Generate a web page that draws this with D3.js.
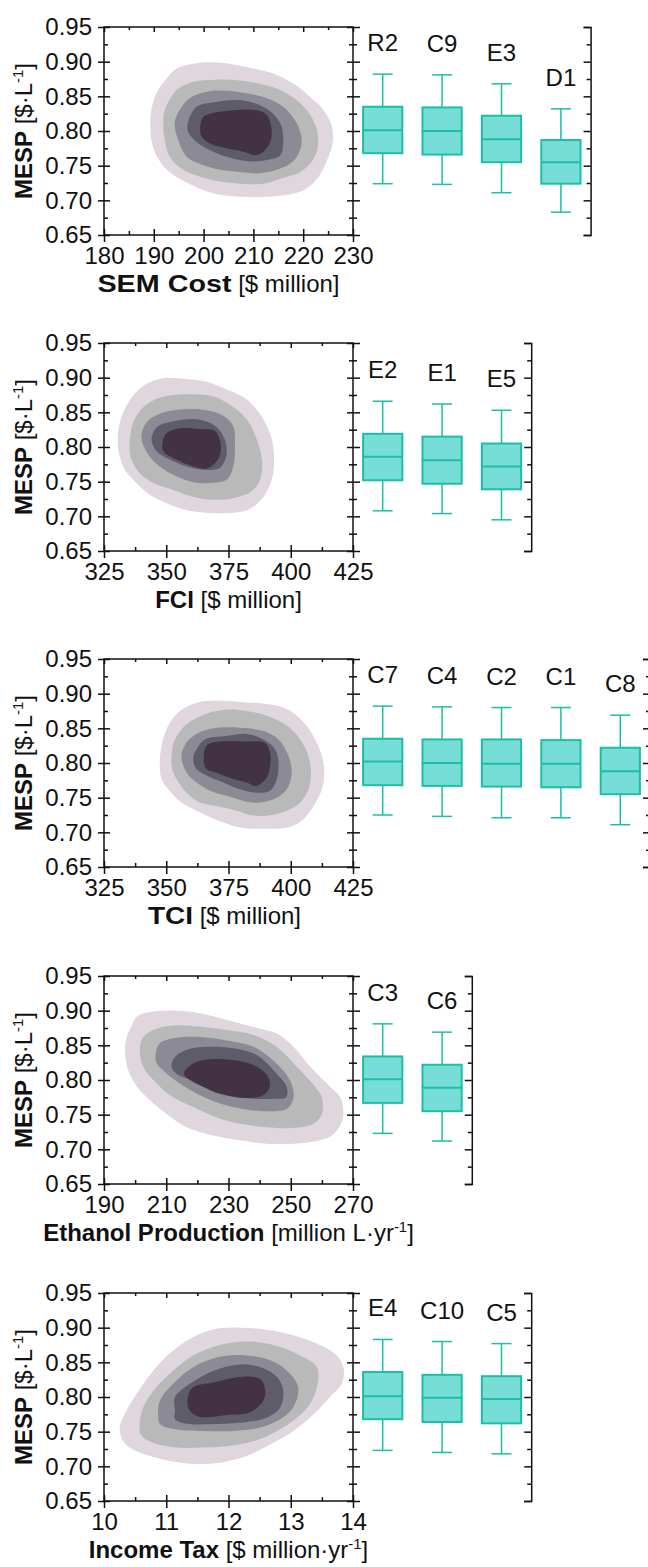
<!DOCTYPE html>
<html>
<head>
<meta charset="utf-8">
<script src="https://cdn.jsdelivr.net/npm/d3@7"></script>
<style>
  body { margin: 0; background: #fff; }
  svg text { font-family: "Liberation Sans", Arial, sans-serif; fill: #111; }
</style>
</head>
<body>
<svg id="chart" width="648" height="1567"></svg>
<script>
// shared MESP axis
var mespTicks = [0.65, 0.70, 0.75, 0.80, 0.85, 0.90, 0.95];

// x tick labels of each contour plot
var semTicks = [180, 190, 200, 210, 220, 230];
var fciTicks = [325, 350, 375, 400, 425];
var tciTicks = [325, 350, 375, 400, 425];
var ethanolTicks = [190, 210, 230, 250, 270];
var taxTicks = [10, 11, 12, 13, 14];

// box plots: [min, q1, median, q3, max]
var semBoxLabels = ["R2", "C9", "E3", "D1"];
var semBoxStats = [[0.724, 0.768, 0.801, 0.835, 0.882], [0.723, 0.766, 0.800, 0.834, 0.881],
                   [0.711, 0.755, 0.788, 0.822, 0.868], [0.683, 0.724, 0.755, 0.787, 0.832]];
var fciBoxLabels = ["E2", "E1", "E5"];
var fciBoxStats = [[0.708, 0.752, 0.786, 0.819, 0.866], [0.704, 0.747, 0.781, 0.815, 0.862],
                   [0.695, 0.739, 0.772, 0.805, 0.853]];
var tciBoxLabels = ["C7", "C4", "C2", "C1", "C8"];
var tciBoxStats = [[0.725, 0.768, 0.802, 0.835, 0.882], [0.723, 0.767, 0.800, 0.834, 0.881],
                   [0.721, 0.766, 0.799, 0.834, 0.880], [0.721, 0.765, 0.799, 0.833, 0.880],
                   [0.711, 0.755, 0.788, 0.822, 0.869]];
var ethanolBoxLabels = ["C3", "C6"];
var ethanolBoxStats = [[0.723, 0.767, 0.801, 0.834, 0.881], [0.712, 0.755, 0.789, 0.822, 0.869]];
var taxBoxLabels = ["E4", "C10", "C5"];
var taxBoxStats = [[0.723, 0.768, 0.801, 0.836, 0.883], [0.720, 0.764, 0.799, 0.832, 0.880],
                   [0.718, 0.762, 0.797, 0.830, 0.877]];

// density contours, outer level first: [x, MESP] vertices
var semContours = [
  [[189.3,0.811],[189.5,0.830],[190.5,0.854],[192.6,0.876],[194.6,0.890],[197.9,0.897],[201.9,0.899],[206.0,0.896],[210.0,0.890],[214.0,0.883],[218.1,0.868],[221.4,0.849],[224.1,0.830],[225.8,0.806],[225.9,0.782],[224.8,0.758],[223.1,0.734],[220.7,0.717],[218.1,0.710],[212.7,0.705],[207.3,0.705],[203.3,0.708],[199.9,0.715],[196.2,0.727],[192.6,0.744],[190.5,0.765],[189.5,0.787]],
  [[191.9,0.813],[192.2,0.830],[194.6,0.859],[197.9,0.871],[202.6,0.874],[207.3,0.873],[211.3,0.868],[215.4,0.859],[219.4,0.840],[221.7,0.820],[222.9,0.796],[222.8,0.772],[221.4,0.753],[219.4,0.741],[216.7,0.734],[212.0,0.724],[207.3,0.724],[203.3,0.727],[199.3,0.734],[195.9,0.744],[193.2,0.763],[192.2,0.787]],
  [[194.2,0.813],[195.6,0.835],[197.6,0.849],[201.9,0.858],[207.3,0.856],[212.0,0.849],[216.0,0.835],[218.7,0.811],[219.7,0.787],[219.1,0.768],[217.4,0.753],[214.7,0.744],[211.3,0.739],[207.3,0.741],[203.3,0.744],[199.9,0.751],[196.6,0.763],[194.9,0.787]],
  [[196.8,0.811],[198.6,0.835],[202.6,0.842],[208.0,0.844],[212.7,0.832],[215.4,0.811],[216.0,0.787],[215.4,0.765],[212.7,0.758],[210.0,0.756],[206.0,0.760],[201.9,0.770],[198.6,0.784],[196.9,0.799]],
  [[199.3,0.804],[199.9,0.820],[201.3,0.825],[206.0,0.830],[210.7,0.830],[212.7,0.823],[213.7,0.796],[212.7,0.775],[210.7,0.765],[208.0,0.770],[204.6,0.775],[201.3,0.782],[199.6,0.792]]
];
var fciContours = [
  [[330.6,0.801],[331.3,0.835],[334.7,0.864],[340.7,0.888],[348.8,0.899],[358.2,0.898],[366.2,0.894],[374.3,0.883],[382.3,0.869],[389.0,0.840],[392.4,0.811],[393.3,0.782],[392.4,0.753],[389.0,0.728],[383.7,0.711],[376.9,0.705],[366.2,0.705],[358.2,0.709],[350.1,0.719],[343.4,0.731],[336.7,0.753],[332.7,0.772]],
  [[335.3,0.806],[336.7,0.835],[340.7,0.857],[347.4,0.871],[358.2,0.876],[368.9,0.873],[375.6,0.861],[382.3,0.840],[386.3,0.811],[388.4,0.782],[387.7,0.753],[384.3,0.736],[376.9,0.726],[368.9,0.724],[360.8,0.728],[352.8,0.738],[344.7,0.748],[339.4,0.762],[336.0,0.782]],
  [[340.0,0.813],[342.0,0.835],[346.7,0.847],[355.5,0.854],[366.2,0.853],[372.9,0.845],[376.9,0.830],[377.6,0.801],[376.9,0.772],[374.3,0.753],[367.6,0.748],[360.2,0.750],[352.8,0.760],[347.4,0.772],[343.4,0.786]],
  [[344.1,0.810],[346.1,0.828],[352.8,0.837],[362.2,0.840],[368.9,0.832],[372.9,0.816],[374.3,0.791],[371.6,0.770],[366.2,0.767],[358.2,0.772],[351.4,0.782],[346.1,0.794]],
  [[348.5,0.807],[350.1,0.820],[355.5,0.827],[363.5,0.826],[369.6,0.823],[371.8,0.806],[371.6,0.789],[369.6,0.777],[366.2,0.769],[360.8,0.772],[354.1,0.782],[348.8,0.794]]
];
var tciContours = [
  [[347.4,0.796],[348.1,0.825],[350.8,0.854],[355.5,0.875],[362.2,0.887],[370.2,0.890],[379.6,0.888],[390.4,0.885],[398.4,0.878],[405.1,0.859],[409.8,0.834],[412.5,0.810],[413.5,0.786],[412.5,0.762],[409.2,0.738],[405.1,0.719],[399.8,0.708],[390.4,0.705],[379.6,0.707],[371.6,0.716],[363.5,0.729],[356.1,0.743],[350.8,0.762],[348.1,0.777]],
  [[352.1,0.810],[353.5,0.834],[358.2,0.856],[366.2,0.871],[374.3,0.877],[382.3,0.875],[390.4,0.868],[398.4,0.854],[403.8,0.834],[407.1,0.810],[408.1,0.786],[407.1,0.762],[403.8,0.743],[398.4,0.731],[390.4,0.724],[383.7,0.725],[378.3,0.731],[370.2,0.738],[363.5,0.743],[358.2,0.757],[354.1,0.777],[352.4,0.791]],
  [[356.1,0.809],[358.2,0.830],[362.2,0.842],[368.9,0.850],[379.6,0.851],[389.0,0.846],[395.1,0.834],[399.1,0.810],[400.4,0.786],[398.4,0.762],[394.4,0.750],[387.7,0.743],[382.3,0.744],[376.9,0.750],[368.9,0.758],[362.2,0.772],[358.2,0.786]],
  [[360.8,0.806],[362.2,0.820],[365.5,0.834],[374.3,0.839],[382.3,0.842],[389.0,0.834],[393.7,0.820],[395.1,0.801],[394.4,0.777],[391.7,0.760],[386.3,0.757],[379.6,0.762],[372.9,0.772],[366.9,0.781],[362.2,0.791]],
  [[365.1,0.801],[366.2,0.825],[371.6,0.831],[382.3,0.831],[389.7,0.829],[391.7,0.815],[391.7,0.796],[390.4,0.779],[386.3,0.767],[382.3,0.772],[376.9,0.777],[370.2,0.786],[366.2,0.791]]
];
var ethanolContours = [
  [[197.0,0.857],[198.8,0.877],[200.4,0.891],[204.7,0.898],[210.1,0.900],[216.5,0.899],[223.0,0.894],[231.6,0.884],[240.1,0.874],[245.5,0.867],[250.9,0.848],[256.3,0.819],[262.7,0.790],[265.9,0.775],[266.8,0.746],[263.8,0.722],[259.5,0.713],[250.9,0.708],[242.3,0.708],[233.7,0.713],[225.1,0.720],[216.5,0.732],[210.1,0.751],[204.7,0.771],[199.3,0.799],[197.0,0.828]],
  [[201.5,0.843],[202.6,0.862],[206.9,0.874],[213.3,0.879],[220.8,0.877],[229.4,0.872],[238.0,0.865],[245.5,0.848],[253.0,0.814],[257.9,0.790],[260.0,0.775],[260.0,0.751],[257.3,0.737],[250.9,0.731],[242.3,0.732],[233.7,0.737],[226.2,0.746],[218.7,0.761],[212.2,0.775],[206.9,0.795],[202.6,0.819]],
  [[206.6,0.838],[207.9,0.853],[213.3,0.861],[220.8,0.862],[229.4,0.857],[238.0,0.848],[244.4,0.828],[249.8,0.799],[250.9,0.775],[248.7,0.758],[242.3,0.755],[234.8,0.758],[227.3,0.766],[220.8,0.778],[214.4,0.795],[209.5,0.812],[206.9,0.824]],
  [[211.7,0.819],[212.8,0.833],[217.6,0.845],[225.1,0.848],[232.6,0.845],[239.1,0.836],[245.5,0.809],[248.7,0.790],[248.5,0.775],[244.4,0.773],[238.0,0.773],[231.6,0.778],[225.1,0.787],[218.7,0.799],[213.3,0.809]],
  [[215.7,0.809],[218.7,0.824],[224.0,0.830],[232.6,0.828],[239.1,0.819],[242.8,0.804],[243.2,0.790],[241.2,0.778],[234.8,0.774],[227.3,0.780],[221.9,0.790],[217.6,0.800]]
];
var taxContours = [
  [[10.25,0.756],[10.33,0.775],[10.52,0.804],[10.79,0.838],[11.11,0.867],[11.49,0.889],[11.86,0.899],[12.19,0.900],[12.61,0.897],[13.04,0.889],[13.47,0.875],[13.74,0.860],[13.85,0.841],[13.82,0.819],[13.63,0.800],[13.37,0.775],[13.04,0.751],[12.72,0.734],[12.35,0.717],[11.97,0.707],[11.54,0.703],[11.11,0.707],[10.74,0.715],[10.47,0.724],[10.31,0.736]],
  [[10.57,0.756],[10.63,0.785],[10.84,0.814],[11.11,0.838],[11.43,0.860],[11.86,0.875],[12.29,0.880],[12.72,0.875],[13.15,0.860],[13.42,0.843],[13.42,0.814],[13.31,0.790],[13.10,0.770],[12.78,0.751],[12.40,0.736],[11.97,0.729],[11.54,0.727],[11.17,0.727],[10.79,0.734],[10.60,0.744]],
  [[10.87,0.775],[10.90,0.795],[11.11,0.819],[11.43,0.843],[11.86,0.858],[12.29,0.860],[12.67,0.853],[12.94,0.838],[13.12,0.814],[13.04,0.785],[12.83,0.768],[12.51,0.756],[12.08,0.751],[11.59,0.751],[11.17,0.753],[10.90,0.761]],
  [[11.14,0.780],[11.14,0.800],[11.38,0.819],[11.76,0.838],[12.19,0.847],[12.51,0.843],[12.78,0.829],[12.88,0.809],[12.83,0.785],[12.61,0.770],[12.19,0.763],[11.76,0.761],[11.38,0.761],[11.14,0.768]],
  [[11.34,0.795],[11.43,0.814],[11.76,0.821],[12.19,0.829],[12.51,0.826],[12.59,0.809],[12.56,0.795],[12.35,0.778],[11.97,0.774],[11.54,0.771],[11.38,0.780]]
];

// axis titles: [text, style]  b = bold, n = normal, s = superscript
var mespTitle = [["MESP", "b"], [" [$\u00B7L", "n"], ["-1", "s"], ["]", "n"]];
var semTitle = [["SEM Cost", "b"], [" [$ million]", "n"]];
var fciTitle = [["FCI", "b"], [" [$ million]", "n"]];
var tciTitle = [["TCI", "b"], [" [$ million]", "n"]];
var ethanolTitle = [["Ethanol Production", "b"], [" [million L\u00B7yr", "n"], ["-1", "s"], ["]", "n"]];
var taxTitle = [["Income Tax", "b"], [" [$ million\u00B7yr", "n"], ["-1", "s"], ["]", "n"]];

var contourColors = ["#e0d6de", "#b9b9b9", "#8c8b95", "#5e5c68", "#433342"];
var boxFill = "#76ded6", boxStroke = "#1dbea8";

var panels = [
  {top: 27,   ticks: semTicks,     title: semTitle,     contours: semContours,     labels: semBoxLabels,     stats: semBoxStats,     boldWidth: 134, titleDx: -10},
  {top: 343,  ticks: fciTicks,     title: fciTitle,     contours: fciContours,     labels: fciBoxLabels,     stats: fciBoxStats},
  {top: 659,  ticks: tciTicks,     title: tciTitle,     contours: tciContours,     labels: tciBoxLabels,     stats: tciBoxStats,     boldWidth: 45, titleDx: -4},
  {top: 976,  ticks: ethanolTicks, title: ethanolTitle, contours: ethanolContours, labels: ethanolBoxLabels, stats: ethanolBoxStats},
  {top: 1293, ticks: taxTicks,     title: taxTitle,     contours: taxContours,     labels: taxBoxLabels,     stats: taxBoxStats}
];

var svg = d3.select("#chart");
var plotLeft = 104, plotRight = 353, plotH = 208;
var bandW = 59.4;
var fontSize = 24;

function midpoints(arr) {
  return d3.pairs(arr).map(function(p) { return (p[0] + p[1]) / 2; });
}

function addTitle(sel, parts, size, boldWidth) {
  var raised = false;
  parts.forEach(function(p) {
    var t = sel.append("tspan").text(p[0]);
    if (p[1] === "b") {
      t.attr("font-weight", "bold");
      // the original's bold words are drawn a bit wider
      if (boldWidth) t.attr("textLength", boldWidth).attr("lengthAdjust", "spacingAndGlyphs");
    }
    if (p[1] === "s") {
      t.attr("font-size", size * 0.62).attr("dy", -size * 0.38);
      raised = true;
    } else if (raised) {
      t.attr("dy", size * 0.38);
      raised = false;
    }
  });
}

// just the tick marks, no domain line
function ticks(g, axis) {
  g.call(axis);
  g.select(".domain").remove();
  g.attr("font-size", null).attr("font-family", null).attr("color", "#111");
  g.selectAll(".tick line").attr("stroke-width", 1.5);
}

var yMinor = midpoints(mespTicks);

panels.forEach(function(p) {
  var top = p.top, bottom = top + plotH;
  var x = d3.scaleLinear().domain(d3.extent(p.ticks)).range([plotLeft, plotRight]);
  var y = d3.scaleLinear().domain([0.65, 0.95]).range([bottom, top]);
  var xMinor = midpoints(p.ticks);
  var g = svg.append("g");

  // filled density contours
  var line = d3.line()
      .x(function(d) { return x(d[0]); })
      .y(function(d) { return y(d[1]); })
      .curve(d3.curveCatmullRomClosed.alpha(0.5));
  g.selectAll(".contour")
      .data(p.contours)
    .enter().append("path")
      .attr("class", "contour")
      .attr("d", line)
      .attr("fill", function(d, i) { return contourColors[i]; });

  // left axis
  var gl = g.append("g").attr("transform", "translate(" + plotLeft + ",0)");
  ticks(gl, d3.axisLeft(y).tickValues(mespTicks).tickSize(6).tickPadding(6).tickFormat(d3.format(".2f")));
  gl.selectAll("text").attr("font-size", fontSize);
  ticks(g.append("g").attr("transform", "translate(" + plotLeft + ",0)"),
        d3.axisLeft(y).tickValues(mespTicks).tickSize(-6).tickFormat(""));
  ticks(g.append("g").attr("transform", "translate(" + plotLeft + ",0)"),
        d3.axisLeft(y).tickValues(yMinor).tickSize(-4).tickFormat(""));

  // bottom axis
  var gb = g.append("g").attr("transform", "translate(0," + bottom + ")");
  ticks(gb, d3.axisBottom(x).tickValues(p.ticks).tickSize(7).tickPadding(5).tickFormat(d3.format("d")));
  gb.selectAll("text").attr("font-size", fontSize);
  ticks(g.append("g").attr("transform", "translate(0," + bottom + ")"),
        d3.axisBottom(x).tickValues(p.ticks).tickSize(-6).tickFormat(""));
  ticks(g.append("g").attr("transform", "translate(0," + bottom + ")"),
        d3.axisBottom(x).tickValues(xMinor).tickSize(-4).tickFormat(""));

  // top axis, ticks inside
  ticks(g.append("g").attr("transform", "translate(0," + top + ")"),
        d3.axisTop(x).tickValues(p.ticks).tickSize(-5).tickFormat(""));
  ticks(g.append("g").attr("transform", "translate(0," + top + ")"),
        d3.axisTop(x).tickValues(xMinor).tickSize(-3).tickFormat(""));

  // shared axis between contour and box plots, ticks both sides
  [7, -6].forEach(function(s) {
    ticks(g.append("g").attr("transform", "translate(" + plotRight + ",0)"),
          d3.axisRight(y).tickValues(mespTicks).tickSize(s).tickFormat(""));
  });
  [4, -4].forEach(function(s) {
    ticks(g.append("g").attr("transform", "translate(" + plotRight + ",0)"),
          d3.axisRight(y).tickValues(yMinor).tickSize(s).tickFormat(""));
  });

  // frame
  g.append("rect")
      .attr("x", plotLeft).attr("y", top)
      .attr("width", plotRight - plotLeft).attr("height", plotH)
      .attr("fill", "none").attr("stroke", "#111").attr("stroke-width", 1.5);

  // titles
  var xt = g.append("text")
      .attr("x", (plotLeft + plotRight) / 2 + (p.titleDx || 0)).attr("y", bottom + 57)
      .attr("text-anchor", "middle").attr("font-size", fontSize);
  addTitle(xt, p.title, fontSize, p.boldWidth);
  var yt = g.append("text")
      .attr("transform", "translate(32," + (top + plotH / 2) + ") rotate(-90)")
      .attr("text-anchor", "middle").attr("font-size", fontSize);
  addTitle(yt, mespTitle, fontSize);

  // box plots
  var bx = d3.scaleBand().domain(p.labels)
      .range([plotRight, plotRight + p.labels.length * bandW]);
  var boxW = bx.bandwidth() * 0.66, capW = 20;
  var boxes = g.selectAll(".box")
      .data(p.stats)
    .enter().append("g")
      .attr("class", "box")
      .attr("transform", function(d, i) { return "translate(" + (bx(p.labels[i]) + bx.bandwidth() / 2) + ",0)"; });

  boxes.append("line")
      .attr("y1", function(d) { return y(d[4]); }).attr("y2", function(d) { return y(d[0]); })
      .attr("stroke", boxStroke).attr("stroke-width", 1.5);
  boxes.selectAll(".cap")
      .data(function(d) { return [d[0], d[4]]; })
    .enter().append("line")
      .attr("class", "cap")
      .attr("x1", -capW / 2).attr("x2", capW / 2)
      .attr("y1", function(v) { return y(v); }).attr("y2", function(v) { return y(v); })
      .attr("stroke", boxStroke).attr("stroke-width", 1.5);
  boxes.append("rect")
      .attr("x", -boxW / 2).attr("width", boxW)
      .attr("y", function(d) { return y(d[3]); })
      .attr("height", function(d) { return y(d[1]) - y(d[3]); })
      .attr("fill", boxFill).attr("stroke", boxStroke).attr("stroke-width", 2);
  boxes.append("line")
      .attr("x1", -boxW / 2).attr("x2", boxW / 2)
      .attr("y1", function(d) { return y(d[2]); }).attr("y2", function(d) { return y(d[2]); })
      .attr("stroke", boxStroke).attr("stroke-width", 2);
  boxes.append("text")
      .attr("text-anchor", "middle")
      .attr("y", function(d) { return y(d[4]) - 23; })
      .attr("font-size", fontSize)
      .text(function(d, i) { return p.labels[i]; });

  // right axis of box plots, ticks pointing in, bracket ends
  var rx = plotRight + p.labels.length * bandW;
  var gr = g.append("g").attr("transform", "translate(" + rx + ",0)");
  gr.call(d3.axisLeft(y).tickValues(mespTicks).tickSize(7).tickSizeOuter(7).tickFormat(""));
  gr.attr("color", "#111");
  gr.selectAll("line, path").attr("stroke-width", 1.5);
  ticks(g.append("g").attr("transform", "translate(" + rx + ",0)"),
        d3.axisLeft(y).tickValues(yMinor).tickSize(4).tickFormat(""));
});
</script>
</body>
</html>
